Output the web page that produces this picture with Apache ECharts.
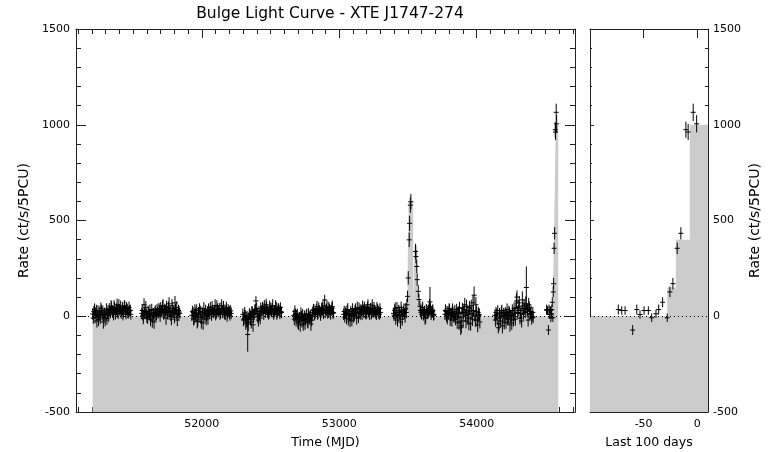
<!DOCTYPE html>
<html>
<head>
<meta charset="utf-8">
<script src="https://cdn.jsdelivr.net/npm/echarts@6/dist/echarts.min.js"></script>
<style>html,body{margin:0;padding:0;background:#fff}#c{width:770px;height:452px}</style>
</head>
<body>
<div id="c"></div>
<script>
// ---------- data: observations (MJD, rate, 1-sigma error) ----------
const mjd = [
 51207,51215,51224,51233,51240,51249,51258,51266,51275,51284,51292,51301,51310,51318,51327,51336,51344,51353,51362,51371,51379,51388,51397,51405,51414,51423,51431,51440,51449,51458,51466,51475,51484,
 51563,51571,51580,51588,51597,51606,51614,51623,51632,51640,51649,51658,51666,51675,51684,51692,51701,51710,51718,51727,51736,51744,51753,51762,51770,51779,51788,51796,51805,51814,51822,51831,51840,
 51928,51937,51945,51954,51963,51971,51980,51989,51997,52006,52015,52023,52032,52041,52049,52058,52067,52075,52084,52093,52101,52110,52119,52127,52136,52145,52153,52162,52171,52179,52188,52197,52205,52214,
 52299,52307,52316,52325,52334,52342,52351,52360,52368,52377,52386,52394,52403,52412,52420,52429,52438,52446,52455,52464,52472,52481,52490,52498,52507,52516,52524,52533,52542,52550,52559,52568,52576,
 52669,52677,52686,52695,52703,52712,52721,52729,52738,52747,52755,52764,52773,52781,52790,52799,52807,52816,52825,52833,52842,52851,52859,52868,52877,52885,52894,52903,52911,52920,52929,52937,52946,52955,
 53032,53040,53049,53058,53066,53075,53084,53092,53101,53110,53118,53127,53136,53144,53153,53162,53170,53179,53188,53196,53205,53214,53222,53231,53240,53248,53257,53266,53274,53283,53292,53300,
 53395,53403,53411,53420,53428,53437,53445,53454,53462,53471,53479,53488,53497,53502,53509,53512,53517,53521,53555,53558,53564,53567,53575,53580,53587,53595,53603,53612,53620,53629,53637,53646,53654,53660,53668,53677,53686,
 53769,53777,53786,53794,53803,53811,53820,53828,53837,53845,53854,53862,53871,53879,53888,53896,53905,53913,53922,53930,53939,53947,53956,53964,53973,53981,53990,53998,54007,54015,54023,
 54132,54140,54149,54157,54166,54174,54183,54191,54200,54208,54217,54225,54234,54242,54251,54259,54268,54276,54285,54293,54302,54310,54319,54327,54336,54344,54353,54361,54370,54378,54387,54395,54404,54411,
 54508.4,54511.6,54514.7,54521.8,54525.6,54528.6,54532.4,54536.4,54539.5,54543.5,54546,54549.7,54554,54556.5,54559.3,54563.3,54566.7,54571.4,54573.5,54578.2,54581.4
];
const rate = [
 12,25,-5,30,8,-18,22,40,5,-30,15,10,-12,28,35,18,45,20,50,10,38,25,55,30,15,42,22,48,12,35,20,28,10,
 15,5,60,25,10,-8,18,30,2,-25,12,20,5,35,15,28,40,22,55,18,30,48,10,65,25,-15,40,20,70,12,-20,30,15,
 5,20,-10,15,30,-20,8,25,-30,10,40,2,-15,22,35,12,28,45,18,30,10,50,25,38,15,55,20,30,8,42,18,25,5,15,
 10,-15,5,-25,-95,-10,8,-30,20,-5,30,80,15,-20,5,40,25,35,50,20,45,30,15,38,25,55,10,30,42,20,35,15,25,
 5,25,-20,10,-35,-5,15,-25,-40,0,-15,10,-30,-10,5,-20,20,30,15,35,10,40,25,20,45,15,85,30,50,20,35,10,40,15,
 10,-5,20,30,-15,8,25,-20,15,5,35,-10,18,40,12,28,50,20,35,15,45,25,10,38,55,20,30,15,42,25,10,20,
 15,30,-10,45,5,20,-30,25,10,35,0,20,104,200,399,485,580,598,338,312,260,191,130,87,52,20,35,5,25,-5,30,15,40,75,10,25,5,
 10,25,-10,15,30,5,-20,20,0,-15,35,10,-35,-5,-50,40,20,60,-25,30,10,45,-40,15,70,110,-20,25,-45,5,-30,
 5,20,-10,-60,15,-25,30,0,-35,20,10,-15,25,-45,5,30,-20,15,45,100,30,70,15,-25,40,55,20,150,35,60,10,25,0,-5,
 35,30,30,-72,35,9,30,30,-8,13,35,73,-8,127,170,355,433,974,962,1065,1005
];
const err = [
 30,28,32,30,26,34,30,32,28,35,30,28,32,30,34,28,32,30,34,28,30,32,34,30,28,32,30,34,28,30,32,30,28,
 30,28,34,30,28,32,30,32,28,35,30,28,32,30,28,32,34,30,34,28,30,32,28,34,30,32,34,30,36,28,32,30,28,
 30,28,32,30,32,34,28,30,35,28,34,30,32,30,32,28,30,34,28,30,32,34,30,32,28,34,30,32,28,34,30,30,28,30,
 30,32,28,34,90,30,28,34,30,28,32,25,30,34,28,32,30,32,34,28,32,30,28,32,30,34,28,30,32,28,32,30,28,
 30,32,34,30,36,28,32,34,36,30,32,30,34,30,28,32,30,32,28,30,28,32,30,28,32,30,28,30,32,28,30,28,32,30,
 30,28,32,30,34,28,30,32,28,30,32,34,28,32,30,28,32,30,28,32,30,28,30,32,34,28,30,28,32,30,28,30,
 30,32,34,30,28,32,36,30,28,32,34,30,30,35,38,40,40,40,40,35,35,32,32,30,30,30,32,28,30,34,30,28,32,78,30,32,28,
 30,28,32,30,32,28,34,30,28,32,30,34,36,32,38,30,34,36,38,30,32,34,36,30,40,45,36,30,38,32,34,
 30,28,32,30,28,34,30,32,34,28,30,32,30,36,28,32,34,30,32,35,30,36,28,34,32,35,30,110,32,36,30,32,28,30,
 26,22,22,26,26,22,22,22,22,22,26,26,22,28,30,30,32,42,42,45,45
];
// second scan of each week (interleaved observations)
const mjdB = [
 51211,51220,51228,51237,51245,51254,51262,51271,51280,51288,51297,51306,51314,51323,51332,51340,51349,51358,51366,51375,51384,51392,51401,51410,51419,51427,51436,51445,51453,51462,51471,51480,
 51567,51575,51584,51593,51601,51610,51619,51627,51636,51645,51653,51662,51671,51679,51688,51697,51705,51714,51723,51731,51740,51749,51757,51766,51775,51783,51792,51801,51809,51818,51827,51835,
 51932,51941,51950,51958,51967,51976,51984,51993,52002,52010,52019,52028,52036,52045,52054,52062,52071,52080,52088,52097,52106,52114,52123,52132,52140,52149,52158,52166,52175,52184,52192,52201,52210,
 52303,52312,52320,52329,52338,52346,52355,52364,52373,52381,52390,52399,52407,52416,52425,52433,52442,52451,52459,52468,52477,52485,52494,52503,52511,52520,52529,52537,52546,52555,52563,52572,52580,
 52673,52682,52690,52699,52708,52716,52725,52734,52742,52751,52760,52768,52777,52786,52794,52803,52812,52820,52829,52838,52846,52855,52864,52872,52881,52890,52898,52907,52916,52924,52933,52942,52950,52959,
 53036,53045,53053,53062,53071,53079,53088,53097,53105,53114,53123,53131,53140,53149,53157,53166,53175,53183,53192,53201,53209,53218,53227,53235,53244,53253,53261,53270,53279,53287,53296,
 53399,53407,53416,53424,53433,53441,53450,53458,53467,53475,53484,53492,53591,53599,53607,53616,53624,53633,53641,53650,53657,53664,53673,53681,53689,
 53773,53781,53790,53799,53807,53816,53824,53833,53841,53850,53858,53867,53875,53884,53892,53901,53909,53918,53926,53935,53943,53952,53960,53969,53977,53986,53994,54003,54011,54019,
 54136,54145,54153,54162,54170,54179,54187,54196,54204,54213,54221,54230,54238,54247,54255,54264,54272,54281,54289,54298,54306,54315,54323,54332,54340,54349,54357,54366,54374,54383,54391,54400,54408
];
const rateB = [
 -10,35,18,-25,28,5,-8,30,22,10,-20,38,15,5,25,52,30,8,40,22,60,15,35,48,28,10,55,25,40,18,45,30,
 30,-12,20,45,-5,25,8,-18,35,15,-30,28,10,22,40,5,30,50,12,38,-10,25,45,20,5,55,30,-5,35,45,8,22,
 25,-15,35,0,-28,18,40,-5,20,-35,12,30,5,-10,25,45,8,32,20,55,15,35,28,10,40,22,48,12,30,5,35,20,28,
 -20,18,-35,0,-40,12,-15,25,-45,10,35,40,0,25,-10,30,45,15,38,60,22,10,48,30,40,18,25,50,10,35,28,45,20,
 -15,10,5,-30,-10,-45,0,8,-20,-35,5,-25,12,-5,-40,0,35,10,25,50,20,30,8,40,28,55,20,35,15,45,25,30,50,20,
 25,15,-10,35,5,-25,12,40,0,28,18,45,-5,22,35,10,30,48,15,25,60,20,38,12,30,45,25,8,35,20,40,
 5,40,20,-20,30,10,45,-15,25,15,38,60,30,10,45,20,-10,35,15,28,50,40,20,30,10,
 30,0,20,40,-15,15,35,-5,25,10,-30,20,45,-60,15,-25,35,5,50,-10,-35,25,55,-15,30,0,60,-20,20,10,
 -20,10,30,-40,0,20,-50,15,5,-30,35,-10,20,0,-35,10,40,-15,80,20,50,-10,30,85,10,40,65,25,-20,45,15,-10,20
];
const errB = [
 30,32,28,34,30,28,32,30,34,28,32,30,28,34,30,32,28,30,34,28,32,30,28,34,30,32,28,30,34,28,32,30,
 32,30,28,34,30,32,28,34,30,28,36,30,32,28,30,34,28,32,30,28,34,30,32,28,30,34,28,32,30,34,28,30,
 30,34,28,32,36,30,28,34,30,36,28,30,32,34,28,30,32,28,30,34,28,32,30,28,34,30,32,28,30,34,28,32,30,
 32,30,36,28,38,30,32,28,36,30,28,32,34,30,32,28,30,34,28,32,30,28,34,30,32,28,30,34,28,32,30,28,30,
 32,30,28,34,30,36,28,30,32,36,28,34,30,32,36,28,30,32,28,30,34,28,32,30,28,34,30,32,28,30,34,28,32,30,
 30,28,32,34,28,32,30,28,34,30,28,32,30,34,28,30,32,28,30,34,28,32,30,28,34,30,32,28,30,32,28,
 30,32,28,34,30,28,32,34,30,28,32,30,30,28,32,30,34,28,30,32,40,30,28,32,30,
 32,30,34,28,36,30,32,28,34,30,36,32,30,38,28,34,30,32,36,34,38,30,32,36,30,28,40,34,30,32,
 34,30,28,38,30,32,40,28,30,36,32,30,28,34,36,30,32,34,40,30,36,32,30,45,28,32,38,30,34,32,30,34,28
];
// binned light curve used for the grey histogram (bin start MJD, level)
const fillT = [51206, 53497, 53504, 53538, 53548, 53567, 53580, 53590, 54554, 54562, 54575, 54593];
const fillV = [0, 200, 600, 60, 370, 150, 50, 0, 150, 400, 1000, 1000];
const tLast = 54582;            // MJD of the last observation (day 0 of right panel)
const xMajor = [52000, 53000, 54000];
const dMajor = [-100, -50, 0];
const dLabels = [-50, 0];

// ---------- build ----------
const xMinor = [];
for (let v = 51100; v <= 54700; v += 100) if (xMajor.indexOf(v) < 0) xMinor.push(v);
const dMinor = [];
for (let v = -95; v <= 5; v += 5) if (dMajor.indexOf(v) < 0) dMinor.push(v);
const allT = mjd.concat(mjdB), allR = rate.concat(rateB), allE = err.concat(errB);
const pts = allT.map((t, i) => [t, allR[i], allE[i]]);
const ptsR = pts.map(p => [p[0] - tLast, p[1], p[2]]).filter(p => p[0] >= -100);
const fill = fillT.map((t, i) => [t, fillV[i]]);
const fillR = fillT.map((t, i) => [t - tLast, fillV[i]]);

const FONT = 'DejaVu Sans';
const AX = '#222';
function errItem(params, api) {
  const x = api.value(0), y = api.value(1), e = api.value(2);
  const p = api.coord([x, y]);
  const lo = api.coord([x, y - e]);
  const hi = api.coord([x, y + e]);
  const s = {stroke: '#000', lineWidth: 1};
  return {type: 'group', children: [
    {type: 'line', shape: {x1: p[0], y1: lo[1], x2: p[0], y2: hi[1]}, style: s},
    {type: 'line', shape: {x1: p[0] - 2.5, y1: p[1], x2: p[0] + 2.5, y2: p[1]}, style: s}
  ]};
}
const X0 = 51085, X1 = 54715;
const lab = {fontFamily: FONT, fontSize: 11, color: '#000'};
const nameX = {fontFamily: FONT, fontSize: 12.5, color: '#000'};
const nameY = {fontFamily: FONT, fontSize: 14, color: '#000'};
function xa(grid, pos, min, max, ticks, len, opts) {
  return Object.assign({
    type: 'value', gridIndex: grid, position: pos, min: min, max: max,
    axisLine: {show: false, onZero: false},
    axisTick: {show: true, inside: true, length: len, customValues: ticks, lineStyle: {color: AX}},
    axisLabel: {show: false},
    splitLine: {show: false}
  }, opts || {});
}
function ya(grid, pos, tl, ml, opts) {
  return Object.assign({
    type: 'value', gridIndex: grid, position: pos, min: -500, max: 1500, interval: 500,
    axisLine: {show: true, onZero: false, lineStyle: {color: AX}},
    axisTick: {show: true, inside: true, length: tl, lineStyle: {color: AX}},
    minorTick: {show: true, splitNumber: 5, length: ml, lineStyle: {color: AX}},
    axisLabel: {show: false}, splitLine: {show: false}
  }, opts || {});
}
const lineOn = {show: true, onZero: false, lineStyle: {color: AX, width: 1}};
const option = {
  animation: false,
  backgroundColor: '#fff',
  title: {text: 'Bulge Light Curve - XTE J1747-274', left: 325, textAlign: 'center', top: 1,
          textStyle: {fontFamily: FONT, fontSize: 15.5, fontWeight: 'normal', color: '#000'}},
  grid: [
    {left: 76, top: 29, width: 499, height: 383, outerBoundsMode: 'none', containLabel: false},
    {left: 590, top: 29, width: 118, height: 383, outerBoundsMode: 'none', containLabel: false}
  ],
  xAxis: [
    xa(0, 'bottom', X0, X1, xMajor, 9, {
      axisLine: lineOn,
      axisLabel: {show: true, customValues: xMajor, formatter: v => String(v), margin: 7, ...lab},
      name: 'Time (MJD)', nameLocation: 'middle', nameGap: 24, nameTextStyle: nameX}),
    xa(0, 'bottom', X0, X1, xMinor, 5),
    xa(0, 'top', X0, X1, xMajor, 9, {axisLine: lineOn}),
    xa(0, 'top', X0, X1, xMinor, 5),
    xa(1, 'bottom', -100, 10, dMajor, 9, {
      axisLine: lineOn,
      axisLabel: {show: true, customValues: dLabels, formatter: v => String(v), margin: 7, ...lab},
      name: 'Last 100 days', nameLocation: 'middle', nameGap: 24, nameTextStyle: nameX}),
    xa(1, 'bottom', -100, 10, dMinor, 4),
    xa(1, 'top', -100, 10, dMajor, 9, {axisLine: lineOn})
  ],
  yAxis: [
    ya(0, 'left', 10, 5, {
      axisLabel: {show: true, formatter: v => String(v), margin: 6, ...lab},
      name: 'Rate (ct/s/5PCU)', nameLocation: 'middle', nameGap: 41, nameTextStyle: nameY}),
    ya(0, 'right', 10, 5),
    ya(1, 'left', 4, 2),
    ya(1, 'right', 5, 3, {
      axisLabel: {show: true, formatter: v => String(v), margin: 5, ...lab},
      name: 'Rate (ct/s/5PCU)', nameLocation: 'middle', nameGap: 40, nameRotate: 90, nameTextStyle: nameY})
  ],
  series: [
    {type: 'line', xAxisIndex: 0, yAxisIndex: 0, data: fill, step: 'end', symbol: 'none',
     lineStyle: {width: 0}, areaStyle: {color: '#cccccc', origin: 'start', opacity: 1}, z: 1,
     markLine: {silent: true, symbol: 'none', label: {show: false}, data: [{yAxis: 0}],
       lineStyle: {type: [1, 3], color: '#000', width: 1}}},
    {type: 'custom', xAxisIndex: 0, yAxisIndex: 0, data: pts, renderItem: errItem, clip: true, z: 3},
    {type: 'line', xAxisIndex: 4, yAxisIndex: 2, data: fillR, step: 'end', symbol: 'none',
     lineStyle: {width: 0}, areaStyle: {color: '#cccccc', origin: 'start', opacity: 1}, z: 1,
     markLine: {silent: true, symbol: 'none', label: {show: false}, data: [{yAxis: 0}],
       lineStyle: {type: [1, 3], color: '#000', width: 1}}},
    {type: 'custom', xAxisIndex: 4, yAxisIndex: 2, data: ptsR, renderItem: errItem, clip: true, z: 3}
  ]
};
const chart = echarts.init(document.getElementById('c'), null, {renderer: 'canvas'});
chart.setOption(option);
</script>
</body>
</html>
